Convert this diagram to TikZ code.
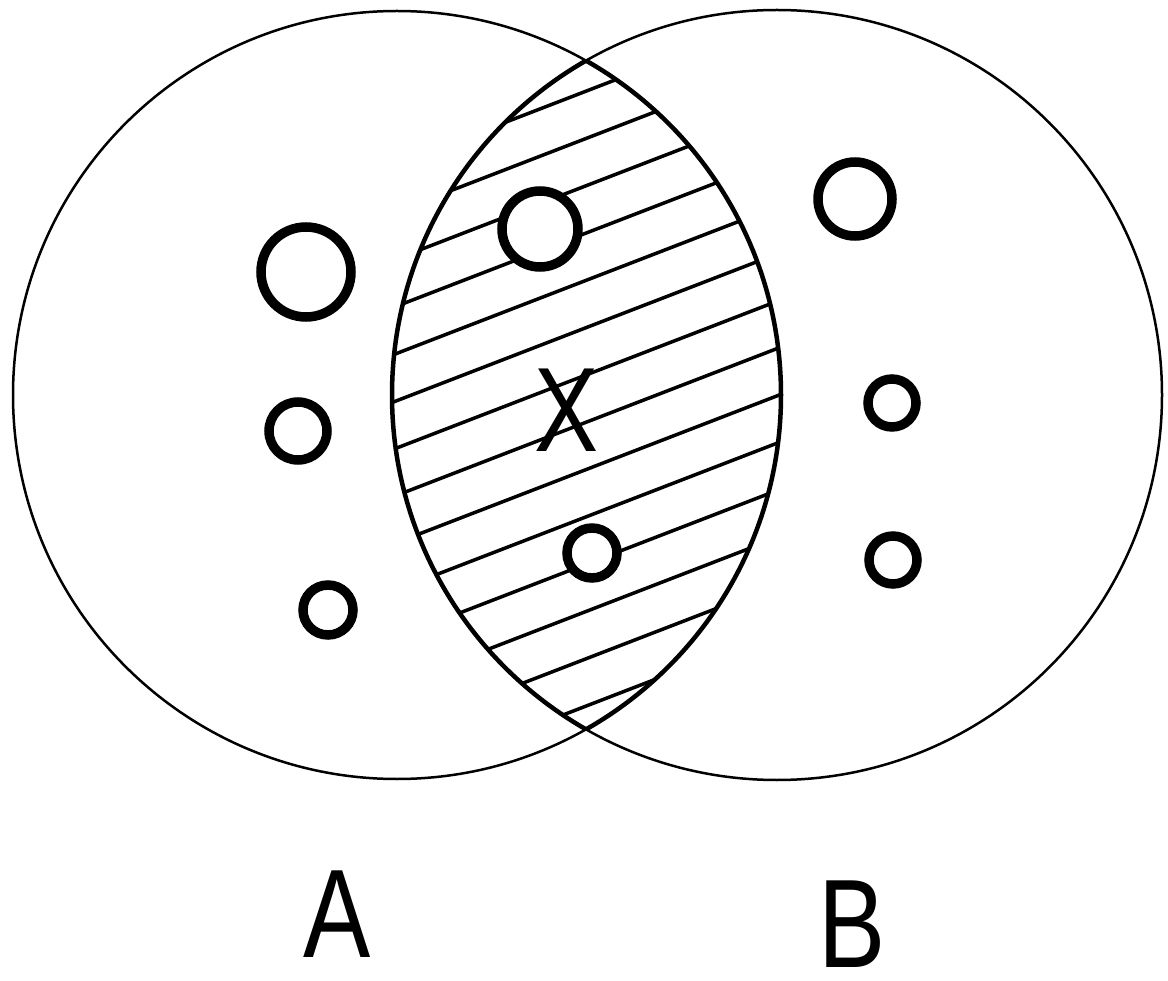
\documentclass[tikz,border=0pt]{standalone}
\usepackage{fontspec}
\setmainfont{Liberation Sans}
\usepackage{graphicx}

\begin{document}
\begin{tikzpicture}[
  x=1pt, y=-1pt,
  ring/.style={line width=2.5pt},
  lens/.style={line width=4.5pt},
  hatch/.style={line width=3.5pt},
  dot/.style={circle, draw, fill=white, line width=9.5pt, inner sep=0pt},
  lbl/.style={inner sep=0pt, font=\fontsize{126}{130}\selectfont}
]
\useasboundingbox (0,0) rectangle (1168,981);
\coordinate (ca) at (397,395);
\coordinate (cb) at (777,395);
\begin{scope}
  \clip (ca) circle (384pt);
  \clip (cb) circle (385pt);
  \foreach \i in {0,...,13}
    \draw[hatch] (360,{178.4+47.3*\i}) -- (820,{0.9+47.3*\i});
\end{scope}
\begin{scope}
  \clip (cb) circle (385pt);
  \draw[lens] (ca) circle (384pt);
\end{scope}
\begin{scope}
  \clip (ca) circle (384pt);
  \draw[lens] (cb) circle (385pt);
\end{scope}
\draw[ring] (ca) circle (384pt);
\draw[ring] (cb) circle (385pt);
\node[dot, minimum size=90pt] (a1) at (306,272) {};
\node[dot, minimum size=58pt] (a2) at (298,431) {};
\node[dot, minimum size=50pt] (a3) at (328,610) {};
\node[dot, minimum size=76pt] (x1) at (540,229) {};
\node[dot, minimum size=50pt] (x2) at (592,553) {};
\node[dot, minimum size=74pt] (b1) at (855,199) {};
\node[dot, minimum size=48pt] (b2) at (892,403) {};
\node[dot, minimum size=48pt] (b3) at (893,560) {};
\node[lbl, font=\fontsize{120}{124}\selectfont] (x) at (567,410) {\scalebox{0.8}[1]{X}};
\node[lbl] (la) at (337,914) {\scalebox{0.8}[1]{A}};
\node[lbl] (lb) at (852,924) {\scalebox{0.8}[1]{B}};
\end{tikzpicture}
\end{document}
